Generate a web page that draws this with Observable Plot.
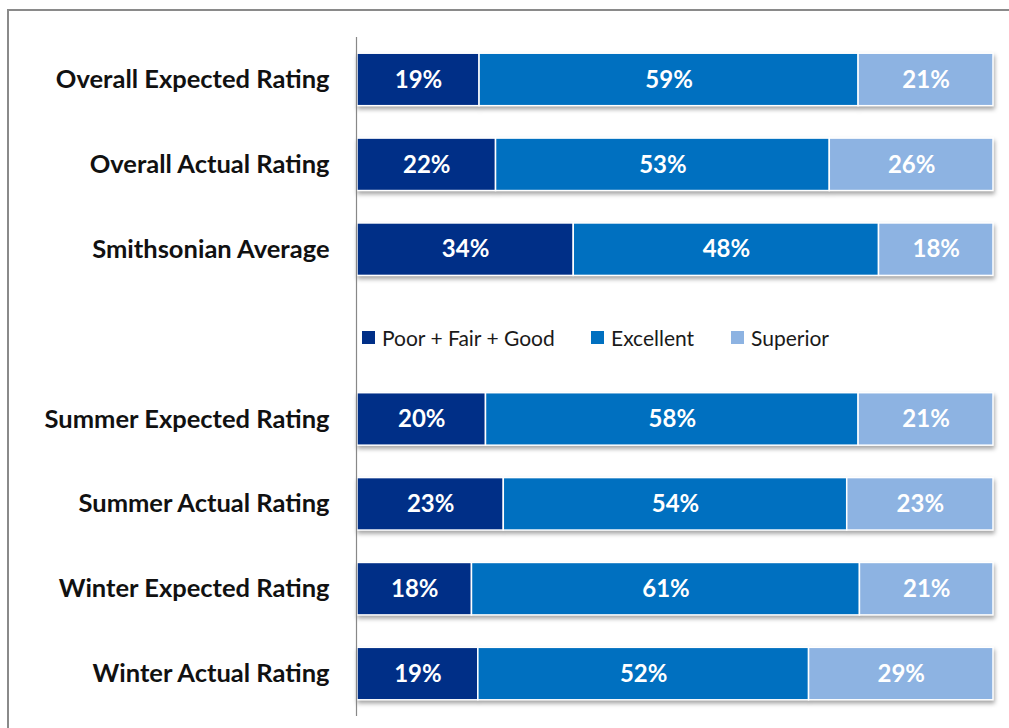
<!DOCTYPE html>
<html><head><meta charset="utf-8">
<script src="https://cdn.jsdelivr.net/npm/d3@7"></script>
<script src="https://cdn.jsdelivr.net/npm/@observablehq/plot@0.6"></script>
<style>
html,body{margin:0;padding:0;background:#fff;overflow:hidden;}
#page{position:relative;width:1009px;height:728px;overflow:hidden;}
#frame{position:absolute;left:7px;top:9px;width:1002px;height:719px;border-top:2px solid #8a8a8a;border-left:2px solid #8a8a8a;box-sizing:border-box;}
#chart{position:absolute;left:0;top:0;}
#chart svg{display:block;}
#chart svg g[aria-label="bar"]{filter:drop-shadow(1px 3px 2px rgba(0,0,0,0.35));}
#legend{position:absolute;top:0;left:0;font-family:Lato,"Open Sans",sans-serif;font-size:21px;color:#1a1a1a;}
#legend .it{position:absolute;top:325px;display:flex;align-items:center;white-space:nowrap;}
#legend .sw{width:13px;height:13px;margin-right:7px;}
</style></head>
<body>
<div id="page">
<div id="frame"></div>
<div id="chart"></div>
<div id="legend"></div>
</div>
<script>
const categories = ["Overall Expected Rating","Overall Actual Rating","Smithsonian Average"," ","Summer Expected Rating","Summer Actual Rating","Winter Expected Rating","Winter Actual Rating"];
const rowCats = ["Overall Expected Rating","Overall Actual Rating","Smithsonian Average","Summer Expected Rating","Summer Actual Rating","Winter Expected Rating","Winter Actual Rating"];
const seriesNames = ["Poor + Fair + Good","Excellent","Superior"];
const seriesColors = ["#002F87","#0070C0","#8DB3E2"];
const poorFairGood = [19,22,34,20,23,18,19];
const excellent = [59,53,48,58,54,61,52];
const superior = [21,26,18,21,23,21,29];

const seriesValues = [poorFairGood, excellent, superior];
const data = [];
seriesNames.forEach((s,si)=>rowCats.forEach((c,ci)=>data.push({cat:c, series:s, value:seriesValues[si][ci]})));

const chart = Plot.plot({
  width:1009, height:728,
  marginLeft:357, marginRight:16, marginTop:37, marginBottom:12,
  style:{fontFamily:"Lato, 'Open Sans', sans-serif", background:"transparent"},
  x:{axis:null, domain:[0,1]},
  y:{domain:categories, padding:0, round:false, axis:null},
  color:{domain:seriesNames, range:seriesColors},
  marks:[
    Plot.barX(data, Plot.stackX({x:"value", y:"cat", fill:"series", z:"series", offset:"normalize", insetTop:16.2, insetBottom:16.2, stroke:"#fff", strokeWidth:1.5})),
    Plot.text(data, Plot.stackX({x:"value", y:"cat", z:"series", offset:"normalize", text:d=>d.value+"%", fill:"#fff", fontWeight:"bold", fontSize:24})),
    Plot.axisY({domain:categories, tickSize:0, tickPadding:28, fontSize:25.5, fontWeight:"bold", fill:"#111", label:null}),
    Plot.ruleX([0], {stroke:"#888", strokeWidth:1.2, dx:-1})
  ]
});
document.getElementById("chart").appendChild(chart);

const leg = document.getElementById("legend");
const lefts = [362, 591, 731];
seriesNames.forEach((s,i)=>{
  const it = document.createElement("div");
  it.className="it";
  it.style.left = lefts[i]+"px";
  const sw = document.createElement("div");
  sw.className="sw"; sw.style.background = seriesColors[i];
  const t = document.createElement("span"); t.textContent = s;
  it.appendChild(sw); it.appendChild(t); leg.appendChild(it);
});
</script>
</body></html>
